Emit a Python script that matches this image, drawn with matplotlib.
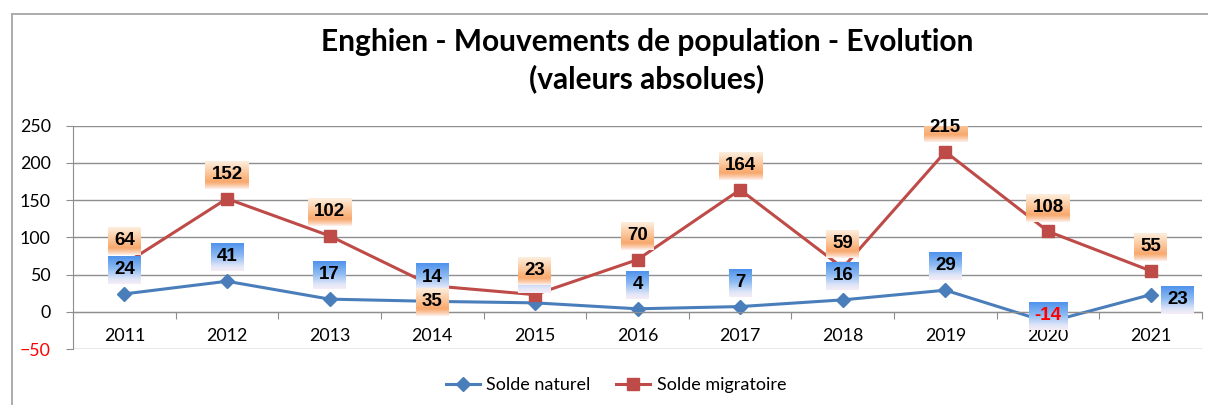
import numpy as np
import matplotlib
matplotlib.use("Agg")
import matplotlib.pyplot as plt
from matplotlib.colors import LinearSegmentedColormap
from matplotlib.lines import Line2D

# 1. DATA
years = ["2011", "2012", "2013", "2014", "2015", "2016",
         "2017", "2018", "2019", "2020", "2021"]
solde_naturel = [24, 41, 17, 14, 12, 4, 7, 16, 29, -14, 23]
solde_migratoire = [64, 152, 102, 35, 23, 70, 164, 59, 215, 108, 55]
y_ticks = [-50, 0, 50, 100, 150, 200, 250]

title = "Enghien - Mouvements de population - Evolution\n(valeurs absolues)"

# decalage des etiquettes (points) : (dx, dy)
offset_nat = {i: (0, 17.5) for i in range(len(years))}
offset_nat[9] = (0, 4.5)
offset_nat[10] = (19.5, -3.8)
offset_mig = {i: (0, 17.3) for i in range(len(years))}
offset_mig[3] = (0, -11.5)

blue = "#4a7ebb"
red = "#be4b48"
grid_col = "#8e8e8e"

cmap_blue = LinearSegmentedColormap.from_list(
    "b", [(0, "#4f93ec"), (0.45, "#8dbaf2"), (0.85, "#e4e8f8"), (1, "#f6ecf6")])
cmap_orange = LinearSegmentedColormap.from_list(
    "o", [(0, "#fdeede"), (0.3, "#fcd2ae"), (0.75, "#f8a86c"), (0.9, "#fbcfb0"), (1, "#fdf0ee")])

plt.rcParams["font.family"] = ["Lato", "DejaVu Sans"]

fig = plt.figure(figsize=(12.08, 4.05), dpi=100)
ax = fig.add_axes([73 / 1208, 56 / 405, 1129 / 1208, 223.3 / 405])

x = np.arange(len(years))
ax.plot(x, solde_naturel, color=blue, lw=2.2, marker="D", ms=7.5,
        label="Solde naturel", zorder=2)
ax.plot(x, solde_migratoire, color=red, lw=2.2, marker="s", ms=8,
        label="Solde migratoire", zorder=2.1)

ax.set_xlim(-0.5, len(years) - 0.5)
ax.set_ylim(-50, 250)
ax.set_autoscale_on(False)

# axes et grille
ax.set_yticks(y_ticks)
ax.yaxis.grid(True, color=grid_col, lw=1)
ax.set_axisbelow(True)
for s in ["top", "right"]:
    ax.spines[s].set_visible(False)
ax.spines["left"].set_color(grid_col)
ax.spines["bottom"].set_color(grid_col)
ax.spines["bottom"].set_position(("data", 0))
ax.tick_params(axis="y", length=5, color=grid_col, labelsize=12.8, pad=11)
for lab, v in zip(ax.get_yticklabels(), y_ticks):
    if v < 0:
        lab.set_color("red")

ax.set_xticks(np.arange(len(years) + 1) - 0.5)
ax.set_xticklabels([])
ax.set_xticks(x, minor=True)
ax.set_xticklabels(years, minor=True)
ax.tick_params(axis="x", which="major", length=5, color=grid_col, direction="out")
ax.tick_params(axis="x", which="minor", length=0, labelsize=12.8, pad=12)

# etiquettes de donnees
texts = []
for i, v in enumerate(solde_naturel):
    t = ax.annotate(str(v), (x[i], v), xytext=offset_nat[i], textcoords="offset points",
                    ha="center", va="center", fontsize=13.5, fontweight="bold",
                    family="Liberation Sans", color="red" if v < 0 else "black",
                    zorder=4.1)
    texts.append((t, cmap_blue, 4.0))
for i, v in enumerate(solde_migratoire):
    t = ax.annotate(str(v), (x[i], v), xytext=offset_mig[i], textcoords="offset points",
                    ha="center", va="center", fontsize=13.5, fontweight="bold",
                    family="Liberation Sans", color="black", zorder=4.3)
    texts.append((t, cmap_orange, 4.2))

fig.canvas.draw()
renderer = fig.canvas.get_renderer()
inv = ax.transData.inverted()
grad = np.linspace(0, 1, 64).reshape(-1, 1)
for t, cm, z in texts:
    bb = t.get_window_extent(renderer)
    cx = (bb.x0 + bb.x1) / 2
    cy = (bb.y0 + bb.y1) / 2 - 0.5
    w = bb.width + 12
    h = 28
    (x0, y0) = inv.transform((cx - w / 2, cy - h / 2))
    (x1, y1) = inv.transform((cx + w / 2, cy + h / 2))
    ax.imshow(grad, cmap=cm, extent=[x0, x1, y0, y1], aspect="auto",
              origin="upper", zorder=z, interpolation="bilinear")

ax.set_xlim(-0.5, len(years) - 0.5)
ax.set_ylim(-50, 250)

# titre
fig.text(647 / 1208, 1 - 60.5 / 405, title, ha="center", va="center",
         fontsize=21.5, fontweight="bold", linespacing=1.33)

# legende
fig.legend(loc="center", bbox_to_anchor=(616 / 1208, 1 - 385 / 405), ncol=2,
           frameon=False, fontsize=13, handlelength=1.9, handletextpad=0.35,
           columnspacing=1.4)

# cadre du graphique
fig.add_artist(Line2D([11.5 / 1208, 11.5 / 1208], [0, 1 - 13.5 / 405],
                      transform=fig.transFigure, color="#a6a6a6", lw=1.3))
fig.add_artist(Line2D([11.5 / 1208, 1], [1 - 13.5 / 405, 1 - 13.5 / 405],
                      transform=fig.transFigure, color="#a6a6a6", lw=1.3))

fig.savefig("out.png", dpi=100)
